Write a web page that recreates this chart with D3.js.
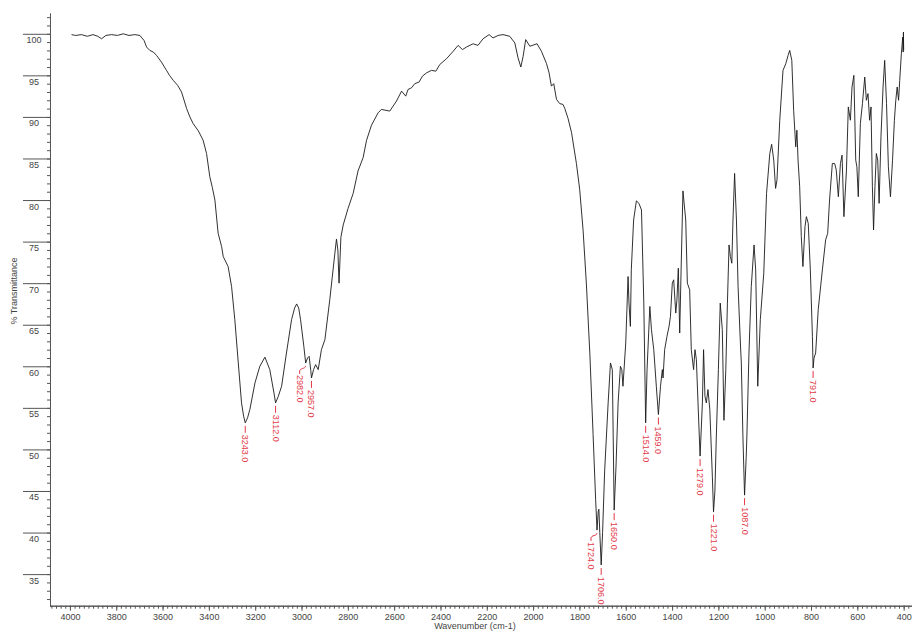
<!DOCTYPE html>
<html>
<head>
<meta charset="utf-8">
<script src="https://cdn.jsdelivr.net/npm/d3@7"></script>
<style>
  html, body { margin: 0; padding: 0; background: #fff; }
  svg { display: block; font-family: "Liberation Sans", Arial, sans-serif; }
</style>
</head>
<body>
<svg id="chart" width="916" height="634"></svg>
<script>
// IR spectrum: wavenumber (cm-1) against % transmittance
const wavenumber = [
  3993, 3975, 3950, 3925, 3900, 3880, 3863, 3845, 3820, 3795, 3770, 3745, 3720, 3698,
  3680, 3669, 3655, 3640, 3626, 3605, 3583, 3570, 3554, 3535, 3518, 3496, 3482, 3468,
  3445, 3425, 3410, 3396, 3385, 3374, 3360, 3345, 3338, 3317, 3302, 3288, 3273, 3259,
  3250, 3243, 3233, 3223, 3201, 3180, 3158, 3137, 3119, 3112, 3100, 3086, 3065, 3043,
  3030, 3021, 3012, 3004, 2990, 2982, 2974, 2967, 2960, 2957, 2948, 2939, 2928, 2914,
  2899, 2878, 2856, 2849, 2843, 2838, 2830, 2820, 2799, 2777, 2756, 2734, 2719, 2698,
  2669, 2655, 2619, 2590, 2568, 2550, 2540, 2525, 2511, 2492, 2478, 2460, 2439, 2420,
  2403, 2374, 2345, 2324, 2305, 2288, 2259, 2238, 2216, 2190, 2173, 2151, 2130, 2101,
  2079, 2065, 2053, 2043, 2032, 2014, 1983, 1964, 1942, 1931, 1921, 1911, 1899, 1885,
  1871, 1863, 1849, 1834, 1813, 1799, 1784, 1770, 1755, 1741, 1730, 1724, 1719, 1716,
  1712, 1706, 1700, 1691, 1676, 1666, 1658, 1650, 1642, 1633, 1623, 1617, 1612, 1600,
  1590, 1586, 1580, 1576, 1566, 1554, 1543, 1532, 1522, 1514, 1508, 1496, 1489, 1479,
  1468, 1459, 1450, 1442, 1439, 1432, 1422, 1413, 1407, 1399, 1393, 1384, 1379, 1373,
  1367, 1361, 1353, 1341, 1334, 1324, 1317, 1307, 1301, 1295, 1288, 1279, 1269, 1264,
  1258, 1252, 1245, 1237, 1226, 1221, 1215, 1209, 1200, 1192, 1183, 1176, 1168, 1161,
  1154, 1148, 1142, 1137, 1130, 1122, 1115, 1105, 1101, 1094, 1087, 1080, 1077, 1068,
  1058, 1046, 1039, 1030, 1019, 1004, 992, 978, 970, 961, 953, 947, 935, 921,
  909, 899, 892, 883, 875, 866, 861, 856, 849, 842, 835, 826, 820, 812,
  803, 794, 791, 787, 780, 769, 751, 737, 728, 720, 708, 698, 691, 682,
  673, 666, 658, 647, 639, 630, 623, 615, 607, 602, 596, 587, 578, 568,
  561, 554, 547, 541, 535, 530, 524, 518, 512, 506, 498, 489, 482, 474,
  466, 457, 448, 440, 434, 428, 422, 417, 410, 404, 402, 401, 400
];
const transmittance = [
  99.9, 99.8, 99.9, 99.7, 99.9, 99.7, 99.4, 99.8, 99.9, 99.8, 100.0, 99.8, 99.9, 99.8,
  99.2, 98.4, 98.0, 97.8, 97.4, 96.6, 95.6, 95.0, 94.4, 93.8, 93.0, 91.0, 90.0, 89.2,
  88.3, 87.2, 85.6, 82.8, 81.5, 80.0, 76.0, 74.4, 73.2, 72.0, 69.6, 65.6, 60.4, 55.6,
  54.0, 53.2, 53.8, 54.8, 58.0, 60.0, 61.1, 59.6, 56.8, 55.6, 56.4, 57.6, 61.6, 65.6,
  67.0, 67.5, 67.0, 65.6, 62.4, 60.4, 61.0, 61.2, 59.5, 58.6, 59.6, 60.2, 59.6, 62.0,
  63.2, 68.0, 73.6, 75.3, 74.0, 70.0, 75.5, 77.0, 79.0, 80.8, 83.5, 85.1, 87.2, 89.0,
  90.5, 90.9, 90.7, 91.9, 93.1, 92.5, 93.3, 93.5, 94.0, 94.2, 94.9, 95.3, 95.6, 95.5,
  96.3, 97.0, 97.9, 98.6, 98.1, 98.4, 98.8, 98.6, 99.4, 99.9, 99.5, 99.8, 99.9, 99.7,
  98.9, 97.1, 96.0, 97.3, 99.3, 98.5, 98.8, 97.9, 96.4, 95.3, 93.7, 94.0, 92.1, 91.6,
  91.5, 91.0, 89.8, 88.1, 84.4, 81.3, 76.3, 69.9, 61.5, 51.8, 44.0, 40.3, 42.5, 42.8,
  40.0, 36.1, 40.0, 47.5, 55.6, 60.4, 59.6, 42.7, 48.0, 55.6, 60.0, 59.6, 57.6, 62.8,
  70.8, 67.6, 64.8, 71.6, 77.6, 79.9, 79.6, 78.8, 67.6, 53.2, 59.6, 67.2, 64.4, 62.0,
  57.6, 54.2, 57.6, 59.6, 58.6, 62.0, 63.6, 64.8, 66.0, 70.0, 70.4, 66.4, 68.0, 71.8,
  64.0, 71.6, 81.1, 77.6, 70.0, 69.2, 62.0, 59.6, 62.0, 60.8, 55.6, 49.2, 55.6, 62.0,
  56.4, 55.6, 57.2, 54.8, 46.7, 42.5, 45.0, 51.5, 59.6, 67.6, 64.4, 53.5, 59.6, 67.6,
  74.6, 73.2, 72.4, 77.6, 83.2, 77.6, 69.6, 62.8, 60.4, 51.5, 44.5, 49.0, 51.5, 61.6,
  69.6, 74.6, 71.6, 57.6, 65.6, 71.2, 80.8, 85.6, 86.7, 84.8, 81.4, 82.4, 89.6, 95.6,
  96.4, 97.4, 98.0, 96.8, 90.8, 86.4, 88.4, 84.8, 81.6, 75.6, 72.0, 76.8, 78.0, 77.2,
  71.6, 63.6, 59.8, 61.0, 61.6, 66.8, 71.6, 75.2, 76.0, 80.0, 84.4, 84.4, 83.6, 80.4,
  84.4, 85.4, 78.0, 83.6, 91.2, 89.6, 93.6, 95.0, 84.8, 84.0, 80.4, 89.2, 91.6, 94.8,
  92.0, 92.8, 89.6, 91.2, 81.6, 76.4, 81.6, 85.6, 84.8, 79.6, 87.6, 93.6, 96.8, 91.6,
  84.0, 80.4, 84.8, 89.6, 92.0, 93.6, 92.0, 94.4, 97.6, 99.6, 97.8, 100.2, 98.0
];

// Picked peaks (cm-1)
const peakLabels = [3243, 3112, 2982, 2957, 1724, 1706, 1650, 1514, 1459, 1279, 1221, 1087, 791];

// Axis tick labels
const xTickLabels = [4000, 3800, 3600, 3400, 3200, 3000, 2800, 2600, 2400, 2200, 2000, 1800, 1600, 1400, 1200, 1000, 800, 600, 400];
const yTickLabels = [35, 40, 45, 50, 55, 60, 65, 70, 75, 80, 85, 90, 95, 100];

const xTitle = "Wavenumber (cm-1)";
const yTitle = "% Transmittance";

const spectrum = wavenumber.map((w, i) => ({ w, t: transmittance[i] }));

const svg = d3.select("#chart");
const plotLeft = 50, plotRight = 912, plotTop = 13, plotBottom = 605.7;

const x = d3.scaleLinear().domain([4086, 364]).range([plotLeft, plotRight]);
const y = d3.scaleLinear().domain([31.2, 102.5]).range([plotBottom, plotTop]);

const axisColor = "#555";
const textColor = "#444";
const peakColor = "#e23a48";

// Minor ticks
const xMinor = d3.range(380, 4081, 20);
const yMinor = d3.range(32, 103, 1);

const gx = svg.append("g").attr("transform", `translate(0,${plotBottom})`);
gx.call(d3.axisBottom(x).tickValues(xMinor).tickSize(3).tickSizeOuter(0).tickFormat(""));
const gx2 = svg.append("g").attr("transform", `translate(0,${plotBottom})`);
gx2.call(d3.axisBottom(x).tickValues(xTickLabels).tickSize(5).tickSizeOuter(0).tickPadding(3).tickFormat(d3.format("d")));

const gy = svg.append("g").attr("transform", `translate(${plotLeft},0)`);
gy.call(d3.axisLeft(y).tickValues(yMinor).tickSize(3).tickSizeOuter(0).tickFormat(""));
const gy2 = svg.append("g").attr("transform", `translate(${plotLeft},0)`);
gy2.call(d3.axisLeft(y).tickValues(yTickLabels).tickSize(27).tickSizeOuter(0).tickFormat(d3.format("d")));
gy2.selectAll(".tick text")
  .attr("x", -16).attr("dy", null).attr("y", 9)
  .attr("text-anchor", "middle");

[gx, gx2, gy, gy2].forEach(g => {
  g.selectAll("path.domain").attr("stroke", axisColor).attr("stroke-width", 1);
  g.selectAll(".tick line").attr("stroke", axisColor).attr("stroke-width", 1);
  g.selectAll(".tick text").attr("fill", textColor)
    .style("font-size", "9px").style("font-family", "'Liberation Sans', Arial, sans-serif");
});
// x axis line spans the full plot width
gx2.select("path.domain").attr("d", `M${plotLeft},0.5H${plotRight}`);
gx.select("path.domain").attr("d", `M${plotLeft},0.5H${plotRight}`);

// Axis titles
svg.append("text")
  .attr("x", 475).attr("y", 629)
  .attr("text-anchor", "middle")
  .attr("fill", textColor)
  .style("font-size", "9px")
  .text(xTitle);

svg.append("text")
  .attr("transform", "translate(17,291) rotate(-90)")
  .attr("text-anchor", "middle")
  .attr("fill", textColor)
  .style("font-size", "9px")
  .text(yTitle);

// Spectrum trace
const line = d3.line().x(d => x(d.w)).y(d => y(d.t));
svg.append("path")
  .datum(spectrum)
  .attr("fill", "none")
  .attr("stroke", "#1a1a1a")
  .attr("stroke-width", 0.9)
  .attr("stroke-linejoin", "round")
  .attr("d", line);

// Peak labels: leader below each minimum, rotated text reading downward
const sortedPeaks = peakLabels.slice().sort((a, b) => b - a);
const gPeaks = svg.append("g");
sortedPeaks.forEach((w, i) => {
  const pt = spectrum.find(d => d.w === w);
  const px = x(w), py = y(pt.t);
  const next = sortedPeaks[i + 1];
  const crowded = next !== undefined && (x(next) - px) < 10;
  const lx = crowded ? px - 6 : px;
  if (crowded) {
    gPeaks.append("path")
      .attr("d", `M${px},${py + 3} C${px},${py + 6} ${lx},${py + 5} ${lx},${py + 8} L${lx},${py + 11}`)
      .attr("fill", "none").attr("stroke", peakColor).attr("stroke-width", 1);
  } else {
    gPeaks.append("line")
      .attr("x1", px).attr("x2", px)
      .attr("y1", py + 3).attr("y2", py + 10)
      .attr("stroke", peakColor).attr("stroke-width", 1);
  }
  gPeaks.append("text")
    .attr("transform", `translate(${lx},${py + 12}) rotate(90)`)
    .attr("dominant-baseline", "central")
    .attr("fill", peakColor)
    .style("font-size", "9px")
    .text(w.toFixed(1));
});
</script>
</body>
</html>
